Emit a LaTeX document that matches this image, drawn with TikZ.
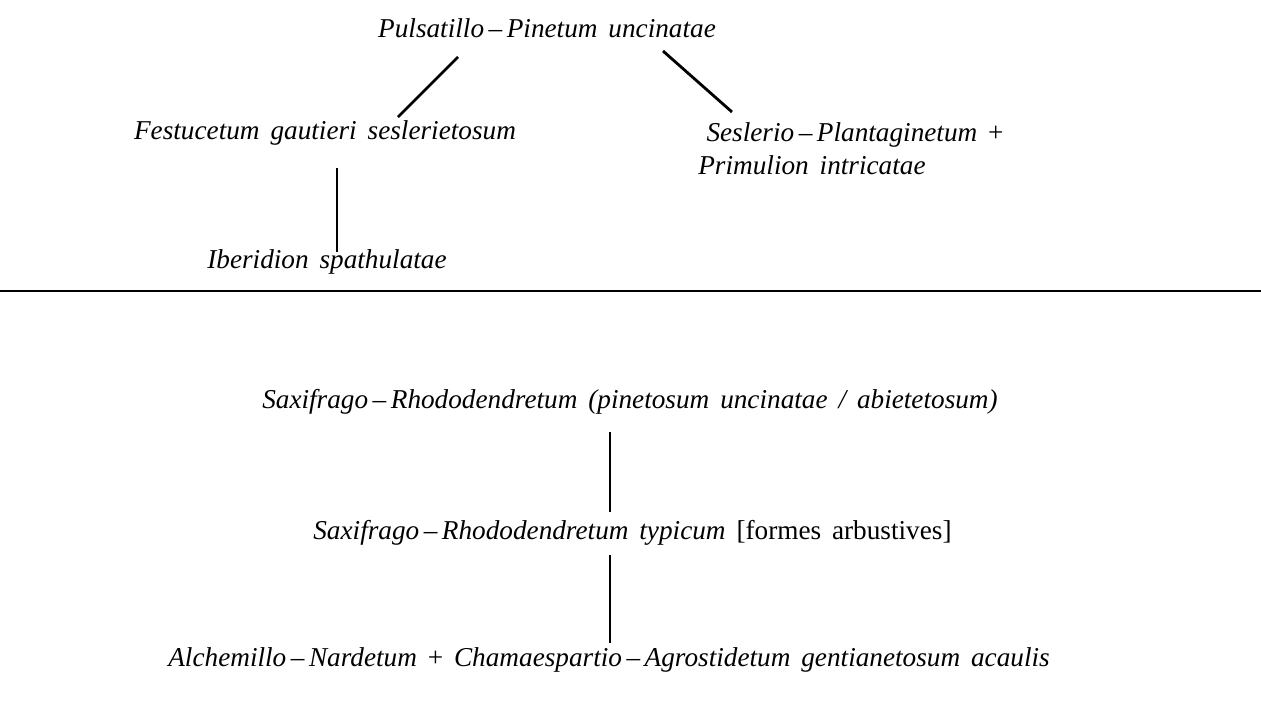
\documentclass[tikz,border=0pt]{standalone}
\usepackage{fontspec}
\setmainfont[WordSpace=1.6]{Liberation Serif}
\usetikzlibrary{positioning}

\begin{document}
\begin{tikzpicture}[x=0.02cm, y=-0.02cm,
		assoc/.style={font=\fontsize{15.5}{18.7}\selectfont\itshape, inner sep=0pt},
		link/.style={line width=1.6pt},
	]
	\useasboundingbox (0,0) rectangle (1261,714);

	% --- Partie haute ---
	\node (pulsa) [assoc] at (547, 28)  {Pulsatillo\,--\,Pinetum uncinatae};
	\node (festu) [assoc] at (325, 133) {Festucetum gautieri seslerietosum};
	\node (iberi) [assoc] at (327, 262) {Iberidion spathulatae};
	\node (sesle) [assoc, align=left, anchor=west] at (698, 149)
		{\hspace*{0.3em}Seslerio\,--\,Plantaginetum \upshape+\\Primulion intricatae};

	\coordinate (l1a) at (458, 57);  \coordinate (l1b) at (398, 117);
	\coordinate (l2a) at (663, 51);  \coordinate (l2b) at (732, 112);
	\coordinate (l3a) at (337, 168); \coordinate (l3b) at (337, 252);
	\draw [link] (l1a) -- (l1b);
	\draw [link] (l2a) -- (l2b);
	\draw [link] (l3a) -- (l3b);

	% --- Séparation ---
	\coordinate (sepw) at (0, 291);
	\coordinate (sepe) at (1261, 291);
	\draw [line width=1.2pt] (sepw) -- (sepe);

	% --- Partie basse ---
	\node (saxi1) [assoc, anchor=east] at (998, 402) {Saxifrago\,--\,Rhododendretum (pinetosum uncinatae / abietetosum)};
	\node (saxi2) [assoc, anchor=west] at (313, 533) {Saxifrago\,--\,Rhododendretum typicum {\upshape [formes arbustives]}};
	\node (alche) [assoc, anchor=west] at (168, 660) {Alchemillo\,--\,Nardetum {\upshape +} Chamaespartio\,--\,Agrostidetum gentianetosum acaulis};

	\coordinate (v1a) at (610, 432); \coordinate (v1b) at (610, 512);
	\coordinate (v2a) at (610, 555); \coordinate (v2b) at (610, 643);
	\draw [link] (v1a) -- (v1b);
	\draw [link] (v2a) -- (v2b);

\end{tikzpicture}
\end{document}
